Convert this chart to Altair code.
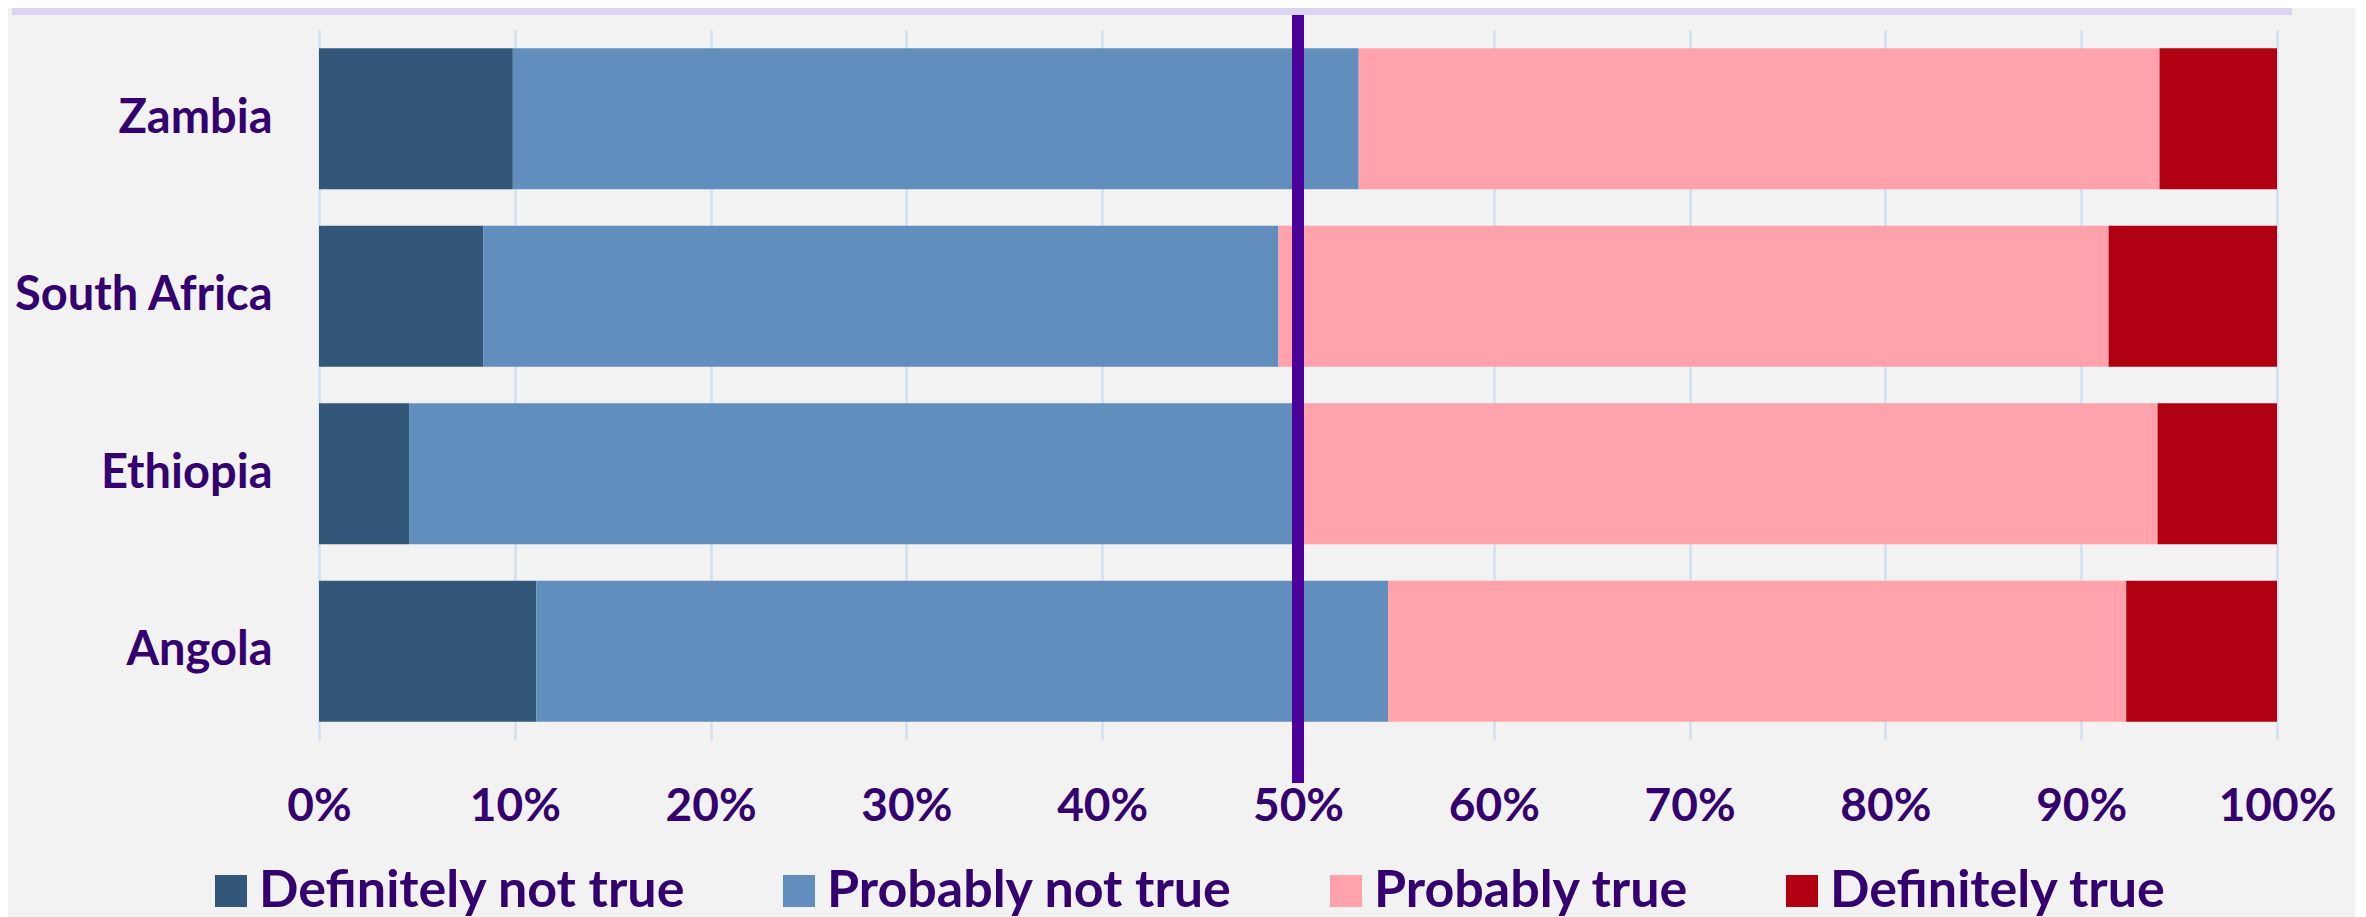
import altair as alt
import pandas as pd

countries = ["Zambia", "South Africa", "Ethiopia", "Angola"]
categories = ["Definitely not true", "Probably not true", "Probably true", "Definitely true"]
definitely_not_true = [9.9, 8.4, 4.6, 11.1]
probably_not_true = [43.2, 40.6, 45.6, 43.5]
probably_true = [40.9, 42.4, 43.7, 37.7]
definitely_true = [6.0, 8.6, 6.1, 7.7]
colors = ["#335779", "#628EBE", "#FFA2AC", "#B00012"]
tick_values = [0, 10, 20, 30, 40, 50, 60, 70, 80, 90, 100]
midpoint = [50]

series = [definitely_not_true, probably_not_true, probably_true, definitely_true]
rows = []
for ci, (cat, vals) in enumerate(zip(categories, series)):
    for country, v in zip(countries, vals):
        rows.append({"country": country, "category": cat, "value": v, "order": ci})
df = pd.DataFrame(rows)

TEXT = "#34006F"
FONT = "Lato"

bars = alt.Chart(df).mark_bar(size=141).encode(
    y=alt.Y("country:N", sort=countries, title=None,
            scale=alt.Scale(paddingInner=0.2, paddingOuter=0.1),
            axis=alt.Axis(labelFontSize=47, labelPadding=47, labelLimit=1000,
                          ticks=False, domain=False, grid=False,
                          labelColor=TEXT, labelFont=FONT, labelFontWeight="bold")),
    x=alt.X("value:Q", stack="zero", title=None,
            scale=alt.Scale(domain=[0, 100], nice=False),
            axis=alt.Axis(values=tick_values, labelExpr="datum.value + '%'",
                          labelFontSize=46, labelPadding=44, labelColor=TEXT,
                          labelFont=FONT, labelFontWeight="bold",
                          labelFlush=False, labelOverlap=False,
                          ticks=False, domain=False, grid=True,
                          gridColor="#D3DFEC", gridWidth=2.5)),
    color=alt.Color("category:N", scale=alt.Scale(domain=categories, range=colors),
                    legend=alt.Legend(title=None, orient="none", direction="horizontal",
                                      legendX=-114, legendY=835,
                                      symbolType="square", symbolSize=1024,
                                      symbolStrokeWidth=0, symbolOpacity=1,
                                      labelFontSize=52, labelFont=FONT,
                                      labelFontWeight="bold", labelColor=TEXT,
                                      labelOffset=2, columnPadding=87,
                                      labelLimit=1000, padding=0)),
    order=alt.Order("order:Q"),
)

rule = alt.Chart(pd.DataFrame({"mid": midpoint})).mark_rule(
    color="#4A0099", strokeWidth=12
).encode(
    x=alt.X("mid:Q"),
    y=alt.value(-22),
    y2=alt.value(753),
)

band = alt.Chart(pd.DataFrame({"mid": midpoint})).mark_rule(
    color="#DAD4F2", strokeWidth=7
).encode(
    x=alt.value(-307),
    x2=alt.value(1973),
    y=alt.value(-18.5),
)

chart = alt.layer(bars, rule, band).properties(
    width=1958,
    height=710,
    background="#F2F2F2",
    autosize=alt.AutoSizeParams(type="none"),
    padding={"left": 311, "top": 22, "right": 78, "bottom": 177},
).configure_view(stroke=None)

chart.save("out.html", embed_options={"renderer": "svg", "actions": False})
